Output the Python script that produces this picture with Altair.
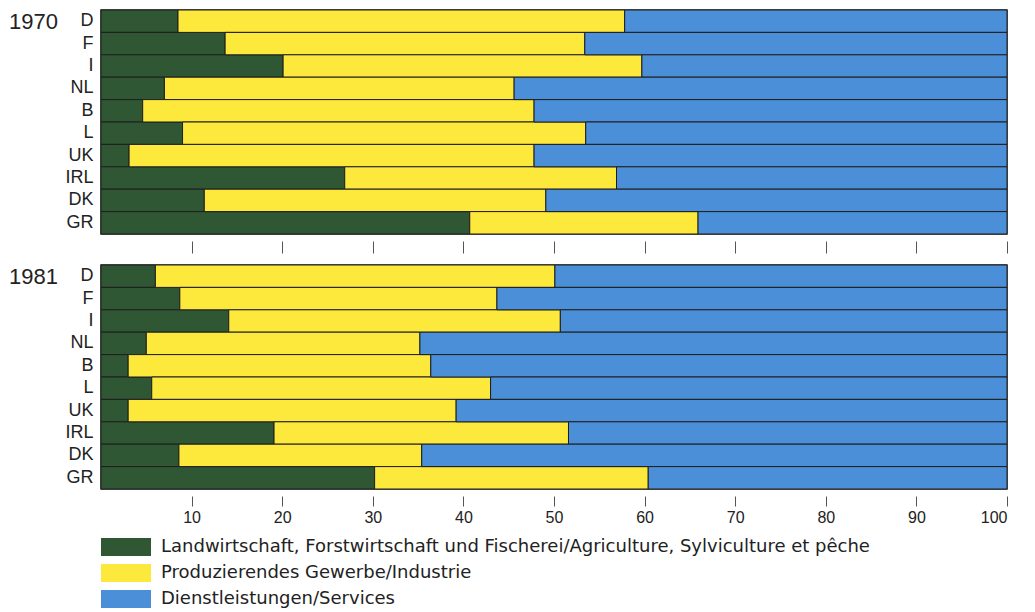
import altair as alt
import pandas as pd

countries = ["D", "F", "I", "NL", "B", "L", "UK", "IRL", "DK", "GR"]
sectors = [
    "Landwirtschaft, Forstwirtschaft und Fischerei/Agriculture, Sylviculture et pêche",
    "Produzierendes Gewerbe/Industrie",
    "Dienstleistungen/Services",
]
colors = ["#2f5733", "#fde83c", "#4a8fd7"]

agr_1970 = [8.5, 13.7, 20.1, 7.0, 4.6, 9.0, 3.1, 26.9, 11.4, 40.7]
ind_1970 = [49.3, 39.7, 39.6, 38.6, 43.2, 44.5, 44.7, 30.0, 37.7, 25.2]
ser_1970 = [42.2, 46.6, 40.3, 54.4, 52.2, 46.5, 52.2, 43.1, 50.9, 34.1]

agr_1981 = [6.0, 8.7, 14.1, 5.0, 3.0, 5.6, 3.0, 19.1, 8.6, 30.2]
ind_1981 = [44.1, 35.0, 36.6, 30.2, 33.4, 37.4, 36.2, 32.5, 26.8, 30.2]
ser_1981 = [49.9, 56.3, 49.3, 64.8, 63.6, 57.0, 60.8, 48.4, 64.6, 39.6]

tick_values = [10, 20, 30, 40, 50, 60, 70, 80, 90, 100]

FONT = "Liberation Sans"
W = 906
H = 224


def long_df(series):
    rows = []
    for si, vals in enumerate(series):
        for c, v in zip(countries, vals):
            rows.append({"country": c, "sector": sectors[si], "order": si, "value": v})
    return pd.DataFrame(rows)


color_scale = alt.Scale(domain=sectors, range=colors)


def panel(year, series, labels):
    df = long_df(series)
    x_axis = alt.Axis(
        values=tick_values,
        labels=labels,
        domain=False,
        grid=False,
        ticks=True,
        tickSize=10 if labels else 12,
        tickColor="#555555",
        tickWidth=1,
        offset=7,
        title=None,
        labelFontSize=16,
        labelFont=FONT,
        labelColor="#222222",
        labelPadding=3,
    )
    bars = alt.Chart(df).mark_bar(stroke="#1e1e1e", strokeWidth=1).encode(
        x=alt.X("sum(value):Q", stack="zero",
                scale=alt.Scale(domain=[0, 100], nice=False, zero=True),
                axis=x_axis),
        y=alt.Y("country:N", sort=countries,
                scale=alt.Scale(paddingInner=0, paddingOuter=0),
                axis=alt.Axis(title=None, ticks=False, domain=False,
                              labelFontSize=18, labelFont=FONT,
                              labelColor="#222222", labelPadding=8)),
        color=alt.Color("sector:N", scale=color_scale, legend=None),
        order=alt.Order("order:Q", sort="ascending"),
    )
    ylab = alt.Chart(pd.DataFrame({"year": [year]})).mark_text(
        align="right", baseline="middle", fontSize=22, font=FONT, color="#222222"
    ).encode(text="year:N", x=alt.value(-43), y=alt.value(12))
    return alt.layer(bars, ylab).properties(width=W, height=H)


p1 = panel("1970", [agr_1970, ind_1970, ser_1970], False)
p2 = panel("1981", [agr_1981, ind_1981, ser_1981], True)

leg_df = pd.DataFrame({"sector": sectors, "order": [0, 1, 2]})
leg_y = alt.Y("sector:N", sort=sectors, axis=None,
              scale=alt.Scale(paddingInner=0.31, paddingOuter=0.155))
leg_rect = alt.Chart(leg_df).mark_rect().encode(
    y=leg_y,
    x=alt.value(0), x2=alt.value(50),
    color=alt.Color("sector:N", scale=color_scale, legend=None),
)
leg_text = alt.Chart(leg_df).mark_text(
    align="left", baseline="middle", fontSize=18, font="DejaVu Sans", color="#222222"
).encode(y=leg_y, x=alt.value(60), text="sector:N")
legend = alt.layer(leg_rect, leg_text).properties(
    width=W, height=78, view=alt.ViewBackground(stroke=None)
)

chart = alt.VConcatChart(vconcat=[p1, p2, legend], spacing=8).configure_view(
    stroke="#222222", strokeWidth=1.5
).properties(background="white", padding=0)

chart.save("out.html", embed_options={"renderer": "svg", "actions": False})
